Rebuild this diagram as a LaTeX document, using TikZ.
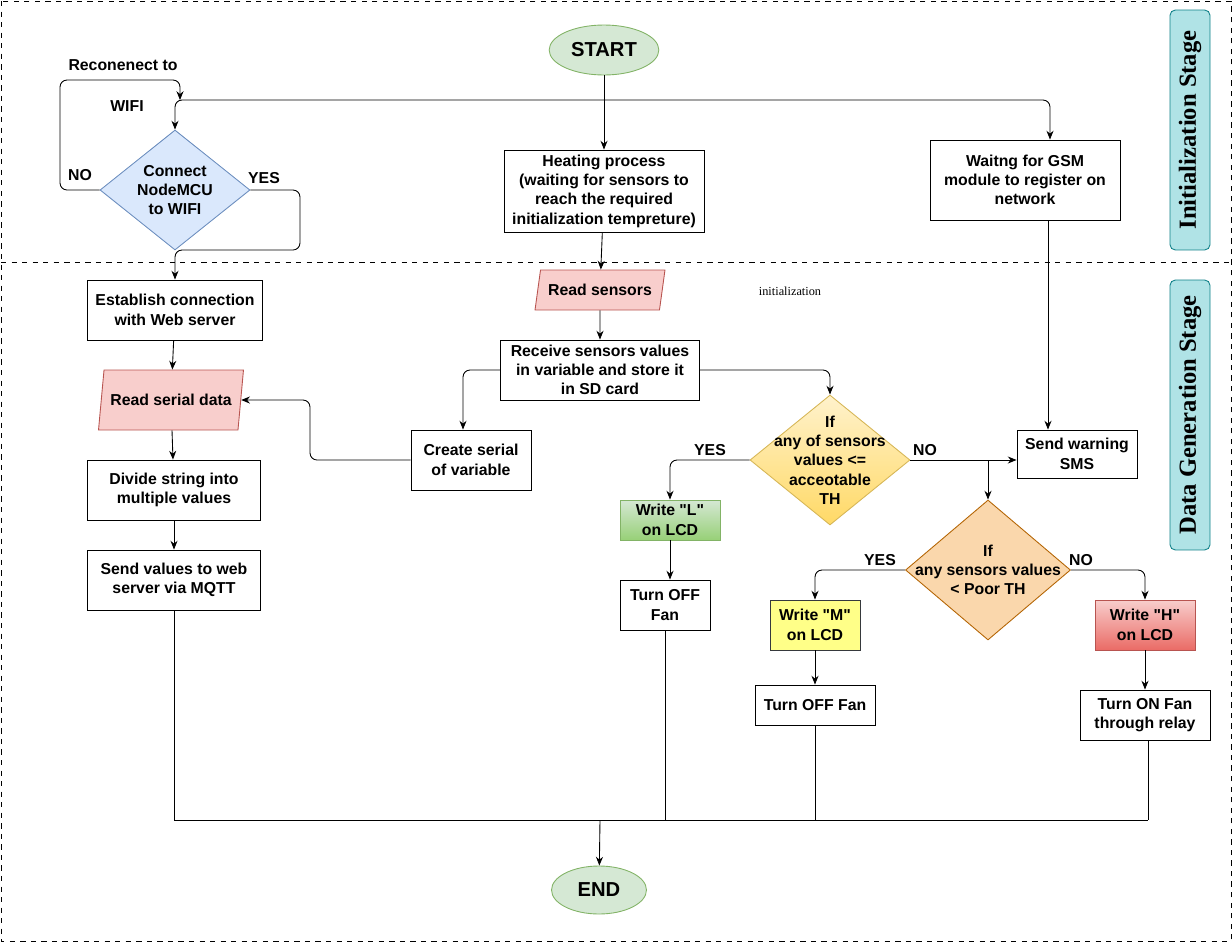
\documentclass[tikz,border=0pt]{standalone}
\usepackage{fontspec}
\setmainfont{Liberation Sans}[Ligatures=TeXOff]
\newfontfamily\stagefont{Liberation Serif}
\usetikzlibrary{shapes.geometric,arrows.meta}
\definecolor{blueF}{HTML}{DAE8FC}\definecolor{blueD}{HTML}{6C8EBF}
\definecolor{greenF}{HTML}{D5E8D4}\definecolor{greenD}{HTML}{82B366}\definecolor{greenB}{HTML}{97D077}
\definecolor{redF}{HTML}{F8CECC}\definecolor{redD}{HTML}{B85450}\definecolor{redB}{HTML}{EA6B66}
\definecolor{yelF}{HTML}{FFF2CC}\definecolor{yelB}{HTML}{FFD966}\definecolor{yelD}{HTML}{D6B656}
\definecolor{oraF}{HTML}{FAD7AC}\definecolor{oraD}{HTML}{B46504}
\definecolor{noteF}{HTML}{FFFF88}\definecolor{noteD}{HTML}{36393D}
\definecolor{tealF}{HTML}{B0E3E6}\definecolor{tealD}{HTML}{0E8088}
\newcommand{\qt}{\symbol{34}}

\tikzset{
  box/.style={draw, fill=white, align=center, inner sep=1pt},
  io/.style={trapezium, trapezium left angle=70, trapezium right angle=110, draw=redD, fill=redF, align=center, trapezium stretches body, inner sep=1pt},
  term/.style={ellipse, draw=greenD, fill=greenF, minimum width=1.9cm, minimum height=1cm, font=\fontsize{11.5}{13}\selectfont\bfseries},
  dec/.style={diamond, draw, inner sep=0pt, minimum width=#1},
  txt/.style={align=center},
  stage/.style={draw=tealD, fill=tealF, rounded corners=3pt, rotate=90, font=\stagefont\fontsize{14}{16}\selectfont\bfseries, minimum height=0.8cm, inner sep=0pt},
  arr/.style={-{Stealth[length=5pt,width=4pt]}, rounded corners=4pt},
}

\begin{document}
\begin{tikzpicture}[x=0.02cm, y=-0.02cm, font=\fontsize{9}{11}\selectfont\bfseries, line width=0.5pt]
        \useasboundingbox (0,0) rectangle (1232,944);
        % frame and stage separator
        \draw[dashed, line width=0.4pt] (1,1) rectangle (1231,941);
        \draw[dashed, line width=0.4pt] (1,262) -- (1231,262);
        \node[stage, minimum width=4.8cm] (stI) at (1190,130) {Initialization Stage};
        \node[stage, minimum width=5.4cm] (stD) at (1190,415) {Data Generation Stage};

        % initialization stage
        \node[term] (start) at (604,50) {START};
        \node[dec=3cm, minimum height=2.4cm, draw=blueD, fill=blueF] (wifi) at (175,190) {};
        \node[txt] at (wifi) {Connect\\NodeMCU\\to WIFI};
        \node[box, minimum width=4cm, minimum height=1.64cm] (heat) at (604,191) {Heating process\\(waiting for sensors to\\reach the required\\initialization tempreture)};
        \node[box, minimum width=3.8cm, minimum height=1.6cm] (gsm) at (1025,180) {Waitng for GSM\\module to register on\\network};
        \coordinate (split) at (604,100);

        % data generation stage
        \node[box, minimum width=3.5cm, minimum height=1.2cm] (conn) at (175,310) {Establish connection\\with Web server};
        \node[io, minimum width=2.6cm, minimum height=0.8cm] (rsens) at (600,290) {Read sensors};
        \node[font=\fontsize{7}{8}\selectfont\stagefont] (note) at (790,291) {initialization};
        \node[box, minimum width=3.98cm, minimum height=1.2cm] (recv) at (600,370) {Receive sensors values\\in variable and store it\\in SD card};
        \node[io, minimum width=2.9cm, minimum height=1.2cm] (rser) at (171,400) {Read serial data};
        \node[box, minimum width=2.4cm, minimum height=1.2cm] (ser) at (471,460) {Create serial\\of variable};
        \node[box, minimum width=3.46cm, minimum height=1.2cm] (div) at (174,490) {Divide string into\\multiple values};
        \node[box, minimum width=3.46cm, minimum height=1.2cm] (mqtt) at (174,580) {Send values to web\\server via MQTT};
        \node[dec=3.2cm, minimum height=2.6cm, draw=yelD, top color=yelF, bottom color=yelB] (th1) at (830,460) {};
        \node[txt] at (th1) {If\\any of sensors\\values <=\\acceotable\\TH};
        \node[box, minimum width=2.4cm, minimum height=0.96cm] (sms) at (1077,454) {Send warning\\SMS};
        \node[box, draw=greenD, top color=greenF, bottom color=greenB, minimum width=2cm, minimum height=0.8cm] (wl) at (670,520) {Write \qt L\qt\\on LCD};
        \node[box, minimum width=1.8cm, minimum height=1cm] (offl) at (665,605) {Turn OFF\\Fan};
        \node[dec=3.3cm, minimum height=2.8cm, draw=oraD, fill=oraF] (th2) at (988,570) {};
        \node[txt] at (th2) {If\\any sensors values\\< Poor TH};
        \node[box, draw=noteD, fill=noteF, minimum width=1.8cm, minimum height=1cm] (wm) at (815,625) {Write \qt M\qt\\on LCD};
        \node[box, draw=redD, top color=redF, bottom color=redB, minimum width=2cm, minimum height=1cm] (wh) at (1145,625) {Write \qt H\qt\\on LCD};
        \node[box, minimum width=2.4cm, minimum height=0.8cm] (offm) at (815,705) {Turn OFF Fan};
        \node[box, minimum width=2.6cm, minimum height=1cm] (onh) at (1145,715) {Turn ON Fan\\through relay};
        \node[term, minimum height=0.96cm] (end) at (599,890) {END};
        \coordinate (join) at (600,820);

        % connectors, initialization
        \draw[arr] (start) -- (heat);
        \draw[arr] (split) -| (wifi.north);
        \draw[arr] (split) -| (gsm.north -| 1050,0);
        \draw[arr] (wifi.west) -- (60,190) -- (60,80) -| (180,100);
        \draw[arr] (wifi.east) -- (300,190) -- (300,250) -| (conn.north);
        \node (nRe) at (123,65) {Reconenect to};
        \node (nWi) at (127,106) {WIFI};
        \node (nNo) at (80,175) {NO};
        \node (nYes) at (264,178) {YES};

        % connectors, data generation
        \draw[arr] (heat) -- (rsens);
        \draw[arr] (rsens) -- (recv);
        \draw[arr] (recv.west) -| (ser.north -| 463,0);
        \draw[arr] (recv.east) -| (th1.north);
        \draw[arr] (ser.west) -- (310,460) |- (rser.east);
        \draw[arr] (conn) -- (rser);
        \draw[arr] (rser) -- (div);
        \draw[arr] (div) -- (mqtt);
        \draw[arr] (gsm.south -| 1048,0) -- (sms.north -| 1048,0);
        \draw[arr] (th1.east) -- (sms.west |- th1.east);
        \draw[arr] (988,460) -- (th2.north);
        \draw[arr] (th1.west) -| (wl.north);
        \draw[arr] (wl) -- (offl.north -| wl.south);
        \draw[arr] (th2.west) -| (wm.north);
        \draw[arr] (th2.east) -| (wh.north);
        \draw[arr] (wm) -- (offm);
        \draw[arr] (wh) -- (onh);
        \node (yes1) at (710,450) {YES};
        \node (no1) at (925,450) {NO};
        \node (yes2) at (880,560) {YES};
        \node (no2) at (1081,560) {NO};

        % merging to end
        \draw (mqtt.south) -- (174,820) -- (1148,820);
        \draw (offl.south) -- (665,820);
        \draw (offm.south) -- (815,820);
        \draw (onh.south -| 1148,0) -- (1148,820);
        \draw[arr] (join) -- (end);
\end{tikzpicture}
\end{document}
